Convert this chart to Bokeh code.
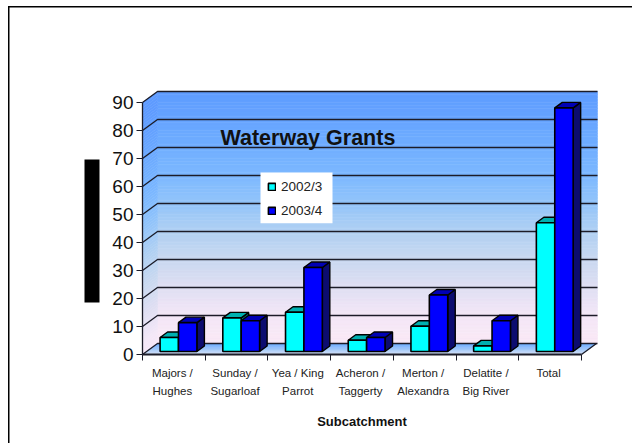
from bokeh.plotting import figure
from bokeh.core.properties import value
from bokeh.models import (Range1d, FixedTicker, Label, LabelSet, ColumnDataSource, BoxAnnotation, Legend, LegendItem)
from bokeh.embed import file_html
from bokeh.resources import INLINE

line1 = ["Majors /", "Sunday /", "Yea / King", "Acheron /", "Merton /", "Delatite /", "Total"]
line2 = ["Hughes", "Sugarloaf", "Parrot", "Taggerty", "Alexandra", "Big River", ""]
series_a = [5, 12, 14, 4, 9, 2, 46]
series_b = [10.3, 11, 30, 5, 20.2, 11, 87]
y_ticks = [0, 10, 20, 30, 40, 50, 60, 70, 80, 90]
title_text = "Waterway Grants"
x_title = "Subcatchment"
names = ["2002/3", "2003/4"]

CW, VW = 62.71, 2.8
X0, Y0 = 142, 354
def X(px): return (px - X0) / CW
def V(py): return (Y0 - py) / VW
DX, DY = 15 / CW, 11 / VW

p = figure(width=632, height=443, output_backend="svg", toolbar_location=None,
           x_range=Range1d(X(0), X(632)), y_range=Range1d(V(443), V(0)),
           min_border=0, outline_line_color=None, margin=(0, 0, 0, 0))
p.grid.visible = False
p.background_fill_color = "white"
p.border_fill_color = "white"

stops = [(0, (250, 232, 246)), (10, (243, 231, 247)), (20, (222, 222, 242)), (30, (200, 216, 240)),
         (40, (176, 208, 243)), (50, (146, 196, 250)), (60, (124, 184, 255)),
         (70, (112, 174, 255)), (80, (102, 164, 255)), (90, (94, 155, 255))]
def grad(v, shift=0):
    v = min(90, max(0, v + shift))
    for (a, ca), (b, cb) in zip(stops, stops[1:]):
        if v <= b:
            t = (v - a) / (b - a)
            return "#%02x%02x%02x" % tuple(int(round(x + (y - x) * t)) for x, y in zip(ca, cb))
    return "#%02x%02x%02x" % stops[-1][1]

step = 1.0
levels = [i * step for i in range(90)]
p.quad(left=DX, right=X(597), bottom=[l + DY for l in levels], top=[l + step + DY for l in levels],
       fill_color=[grad(l) for l in levels], line_color=[grad(l) for l in levels], line_width=0.5)
p.patches(xs=[[0, DX, DX, 0] for l in levels],
          ys=[[l, l + DY, l + DY + step, l + step] for l in levels],
          fill_color=[grad(l, 6) for l in levels], line_color=[grad(l, 6) for l in levels], line_width=0.5)
fl = [i / 12 for i in range(12)]
fc = ["#%02x%02x%02x" % (int(214 - 118 * t), int(226 - 60 * t), int(246 + 9 * t)) for t in fl]
p.patches(xs=[[0 + DX * t, 7 + DX * t, 7 + DX * (t + 1 / 12), DX * (t + 1 / 12)] for t in fl],
          ys=[[DY * t, DY * t, DY * (t + 1 / 12), DY * (t + 1 / 12)] for t in fl],
          fill_color=fc, line_color=fc, line_width=0.5)
p.multi_line(xs=[[0, DX, X(597)] for v in y_ticks], ys=[[v, v + DY, v + DY] for v in y_ticks],
             line_color="#1c1c28", line_width=1.3)
p.line([7, 7 + DX], [0, DY], line_color="#1c1c28", line_width=1.3)

BW = 18.4 / CW
OFF = 17.6 / CW
BDX, BDY = 7.5 / CW, 5.5 / VW
BASE = 3 / VW
def bars(vals, start, front, topc, side):
    n = range(len(vals))
    l = [i + start for i in n]
    r = [a + BW for a in l]
    t = [BASE + v for v in vals]
    p.patches(xs=[[r[i], r[i] + BDX, r[i] + BDX, r[i]] for i in n],
              ys=[[BASE, BASE + BDY, t[i] + BDY, t[i]] for i in n],
              fill_color=side, line_color="black", line_width=1.4)
    p.patches(xs=[[l[i], l[i] + BDX, r[i] + BDX, r[i]] for i in n],
              ys=[[t[i], t[i] + BDY, t[i] + BDY, t[i]] for i in n],
              fill_color=topc, line_color="black", line_width=1.4)
    return p.quad(left=l, right=r, bottom=BASE, top=t, fill_color=front, line_color="black", line_width=1.6)

ra = bars(series_a, OFF, "#00ffff", "#00b0b0", "#007878")
rb = bars(series_b, OFF + BW, "#0000ff", "#0000b4", "#0c0c70")

ax = p.yaxis[0]
ax.fixed_location = 0
ax.ticker = FixedTicker(ticks=y_ticks)
ax.bounds = (0, 90)
ax.minor_tick_line_color = None
ax.major_tick_in = 0
ax.major_tick_out = 6
ax.major_label_standoff = 3
ax.major_label_text_font = "Liberation Sans"
ax.major_label_text_font_size = "19px"
ax.major_label_text_color = "#111111"
ax.axis_line_color = "#1c1c28"
ax.axis_line_width = 1.3
ax.major_tick_line_color = "#1c1c28"

bx = p.xaxis[0]
bx.fixed_location = 0
bx.ticker = FixedTicker(ticks=list(range(8)))
bx.major_label_overrides = {i: " " for i in range(8)}
bx.bounds = (0, 7)
bx.minor_tick_line_color = None
bx.major_tick_in = 0
bx.major_tick_out = 6
bx.axis_line_color = "#1c1c28"
bx.axis_line_width = 2
bx.major_tick_line_color = "#1c1c28"
bx.axis_label = x_title
bx.axis_label_text_font = "Liberation Sans"
bx.axis_label_text_font_style = "bold"
bx.axis_label_text_font_size = "13px"
bx.axis_label_text_color = "#111111"
bx.axis_label_standoff = 33

cx = [i + 0.5 - 1.5 / CW for i in range(7)]
for txt, py in ((line1, 376.7), (line2, 394)):
    src = ColumnDataSource(dict(x=cx, y=[V(py)] * 7, t=txt))
    p.add_layout(LabelSet(x="x", y="y", text="t", source=src, text_align="center",
                          text_baseline="alphabetic", text_font=value("Liberation Sans"),
                          text_font_size=value("11.5px"), text_color="#222222"))

p.add_layout(Label(x=X(220), y=V(137), text=title_text, text_font="Liberation Sans",
                   text_font_style="bold", text_font_size="21.5px", text_color="#111111",
                   text_baseline="alphabetic"))

# page decorations
for l, r, t, b in ((84, 99, 159, 302), (7.5, 632, 5.5, 7), (7.5, 9, 5.5, 443)):
    p.add_layout(BoxAnnotation(left=X(l), right=X(r), top=V(t), bottom=V(b),
                               fill_color="black", fill_alpha=1, line_color=None))
p.add_layout(BoxAnnotation(left=X(260), right=X(332), top=V(172), bottom=V(222.7),
                           fill_color="white", fill_alpha=1, line_color=None))

leg = Legend(items=[LegendItem(label=names[0], renderers=[ra]), LegendItem(label=names[1], renderers=[rb])],
             location=(267, 225), orientation="vertical", background_fill_color="white",
             background_fill_alpha=1, border_line_color=None, glyph_width=9, glyph_height=9,
             label_height=16, label_standoff=5, spacing=8, padding=0, margin=0,
             label_text_font="Liberation Sans", label_text_font_size="13.5px", label_text_color="#222222")
p.add_layout(leg)

open("out.html", "w").write(file_html(p, INLINE))
